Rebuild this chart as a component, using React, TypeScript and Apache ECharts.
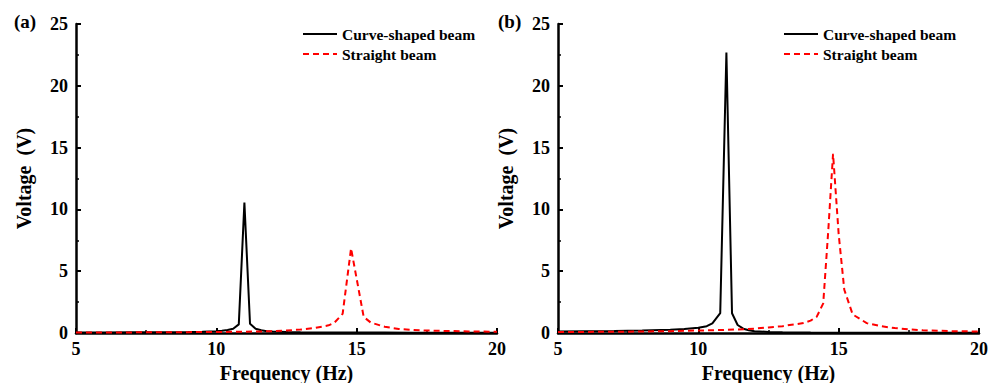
import React, { useEffect, useRef } from "react";
import * as echarts from "echarts";

// Panel (a)
const curveFreqA = [5, 6, 7, 8, 9, 9.5, 10, 10.2, 10.4, 10.6, 10.8, 11.0, 11.2, 11.4, 11.6, 11.8, 12, 12.5, 13, 14, 15, 16, 17, 18, 19, 20];
const curveVoltA = [0.05, 0.05, 0.06, 0.07, 0.09, 0.11, 0.15, 0.18, 0.24, 0.35, 0.7, 10.55, 0.75, 0.35, 0.22, 0.15, 0.12, 0.09, 0.07, 0.05, 0.04, 0.04, 0.03, 0.03, 0.03, 0.03];
const straightFreqA = [5, 6, 7, 8, 9, 10, 11, 12, 12.5, 13, 13.5, 14, 14.2, 14.5, 14.8, 15.25, 15.5, 16, 16.5, 17, 17.5, 18, 19, 20];
const straightVoltA = [0.04, 0.05, 0.05, 0.06, 0.07, 0.08, 0.1, 0.15, 0.2, 0.28, 0.4, 0.62, 0.82, 1.55, 6.85, 1.3, 0.85, 0.5, 0.33, 0.25, 0.2, 0.17, 0.13, 0.1];

// Panel (b)
const curveFreqB = [5, 6, 7, 8, 9, 9.5, 10, 10.3, 10.5, 10.78, 11.0, 11.2, 11.4, 11.6, 11.8, 12, 12.5, 13, 14, 15, 16, 17, 18, 19, 20];
const curveVoltB = [0.12, 0.14, 0.16, 0.2, 0.26, 0.32, 0.42, 0.55, 0.78, 1.6, 22.7, 1.6, 0.65, 0.35, 0.22, 0.15, 0.09, 0.06, 0.04, 0.03, 0.03, 0.02, 0.02, 0.02, 0.02];
const straightFreqB = [5, 6, 7, 8, 9, 10, 11, 12, 12.5, 13, 13.25, 13.5, 13.75, 14, 14.22, 14.45, 14.63, 14.8, 15.0, 15.2, 15.5, 16, 16.5, 17, 17.5, 18, 19, 20];
const straightVoltB = [0.08, 0.09, 0.1, 0.12, 0.15, 0.2, 0.25, 0.35, 0.45, 0.55, 0.65, 0.72, 0.8, 1.0, 1.32, 2.4, 8.3, 14.5, 8.0, 3.5, 1.5, 0.8, 0.55, 0.4, 0.3, 0.22, 0.15, 0.12];

const xTicks = [5, 10, 15, 20];
const yTicks = [0, 5, 10, 15, 20, 25];
const legendNames = ["Curve-shaped beam", "Straight beam"];
const panelLabels = ["(a)", "(b)"];

const zip = (xs: number[], ys: number[]) => xs.map((x, i) => [x, ys[i]]);

const FONT = "'Times New Roman', 'Liberation Serif', serif";

export default function App() {
  const ref = useRef<HTMLDivElement>(null);
  useEffect(() => {
    if (!ref.current) return;
    const chart = echarts.init(ref.current, null, { renderer: "svg" });
    const grids = [
      { left: 76, top: 24, width: 421, height: 309, containLabel: false, outerBoundsMode: "none" },
      { left: 558, top: 24, width: 421, height: 309, containLabel: false, outerBoundsMode: "none" },
    ];
    const axisCommon = {
      axisLine: { show: true, onZero: false, lineStyle: { color: "#000", width: 2.5 } },
      axisTick: { show: true, inside: true, length: 5, lineStyle: { color: "#000", width: 2 } },
      minorTick: { show: true, splitNumber: 2, length: 3, lineStyle: { color: "#000", width: 1.5 } },
      splitLine: { show: false },
      axisLabel: { color: "#000", fontFamily: FONT, fontWeight: "bold" as const, fontSize: 18 },
      nameTextStyle: { color: "#000", fontFamily: FONT, fontWeight: "bold" as const, fontSize: 20 },
    };
    const xAxes = [0, 1].map((g) => ({
      ...axisCommon,
      type: "value" as const,
      gridIndex: g,
      min: xTicks[0],
      max: xTicks[xTicks.length - 1],
      interval: 5,
      name: "Frequency (Hz)",
      nameLocation: "middle" as const,
      nameGap: 26,
      axisLabel: { ...axisCommon.axisLabel, margin: 7 },
    }));
    const yAxes = [0, 1].map((g) => ({
      ...axisCommon,
      type: "value" as const,
      gridIndex: g,
      min: yTicks[0],
      max: yTicks[yTicks.length - 1],
      interval: 5,
      name: "Voltage  (V)",
      nameLocation: "middle" as const,
      nameGap: 42,
      axisLabel: { ...axisCommon.axisLabel, margin: 8 },
    }));
    const lineBlack = { color: "#000", width: 2, type: "solid" as const };
    const lineRed = { color: "#ff0000", width: 2, type: [6, 4] as number[] };
    const series: any[] = [
      { name: legendNames[0], type: "line", xAxisIndex: 0, yAxisIndex: 0, data: zip(curveFreqA, curveVoltA), symbol: "none", lineStyle: lineBlack, itemStyle: { color: "#000" }, z: 2 },
      { name: legendNames[1], type: "line", xAxisIndex: 0, yAxisIndex: 0, data: zip(straightFreqA, straightVoltA), symbol: "none", lineStyle: lineRed, itemStyle: { color: "#ff0000" }, z: 3 },
      { name: legendNames[0], type: "line", xAxisIndex: 1, yAxisIndex: 1, data: zip(curveFreqB, curveVoltB), symbol: "none", lineStyle: lineBlack, itemStyle: { color: "#000" }, z: 2 },
      { name: legendNames[1], type: "line", xAxisIndex: 1, yAxisIndex: 1, data: zip(straightFreqB, straightVoltB), symbol: "none", lineStyle: lineRed, itemStyle: { color: "#ff0000" }, z: 3 },
    ];
    const legendCommon = {
      orient: "vertical" as const,
      data: legendNames,
      itemWidth: 34,
      itemHeight: 14,
      itemGap: 4,
      itemStyle: { opacity: 0 },
      selectedMode: false,
      textStyle: { color: "#000", fontFamily: FONT, fontWeight: "bold" as const, fontSize: 15.5 },
    };
    chart.setOption({
      animation: false,
      backgroundColor: "#fff",
      grid: grids,
      xAxis: xAxes,
      yAxis: yAxes,
      legend: [
        { ...legendCommon, left: 297, top: 21 },
        { ...legendCommon, left: 778, top: 21 },
      ],
      graphic: [
        { type: "text", left: 14, top: 12, style: { text: panelLabels[0], fill: "#000", font: `bold 19px ${FONT}` } },
        { type: "text", left: 498, top: 12, style: { text: panelLabels[1], fill: "#000", font: `bold 19px ${FONT}` } },
      ],
      series,
    });
    return () => chart.dispose();
  }, []);
  return <div ref={ref} style={{ position: "fixed", left: 0, top: 0, width: 996, height: 383 }} />;
}
